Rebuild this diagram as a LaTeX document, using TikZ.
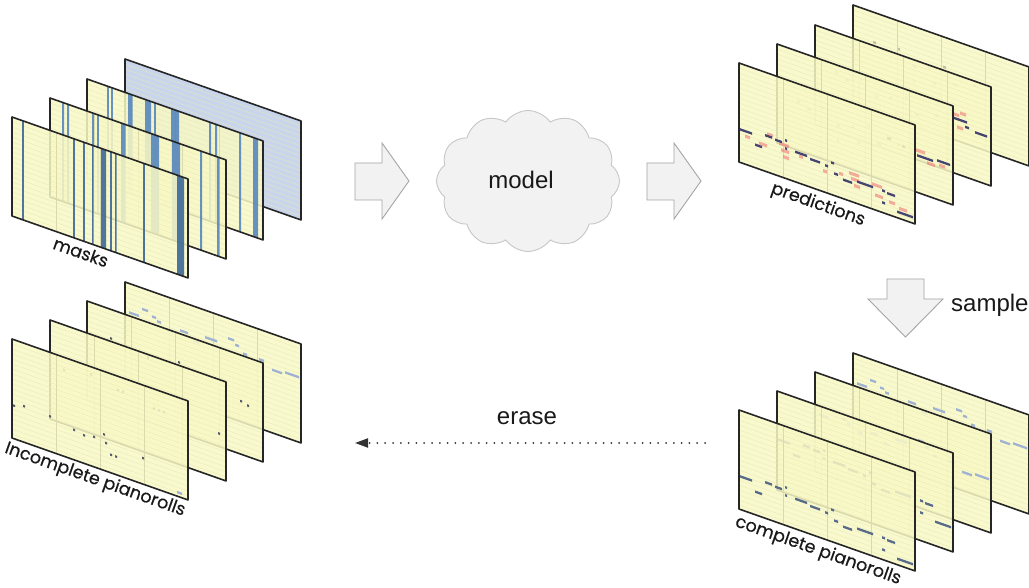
\documentclass[tikz,border=0pt]{standalone}
\usepackage{fontspec}
\setmainfont{Liberation Sans}
\newfontfamily\labelfont{Poppins}[FakeBold=0.35]
\usetikzlibrary{shapes.symbols,arrows.meta}

\definecolor{sheetyellow}{RGB}{249,249,198}
\definecolor{rowcol}{RGB}{232,232,184}
\definecolor{barcol}{RGB}{218,218,172}
\definecolor{maskblue}{RGB}{78,128,188}
\definecolor{maskdark}{RGB}{50,95,150}
\definecolor{maskback}{RGB}{192,206,232}
\definecolor{notecol}{RGB}{88,106,138}
\definecolor{lightnote}{RGB}{160,178,210}
\definecolor{prednote}{RGB}{70,68,112}
\definecolor{predpink}{RGB}{240,110,110}
\definecolor{faintnote}{RGB}{190,190,170}
\definecolor{dotcol}{RGB}{85,90,105}
\definecolor{arrowfill}{RGB}{242,242,242}
\definecolor{arrowdraw}{RGB}{165,165,165}

\tikzset{
  rowline/.style={draw=rowcol, line width=0.35pt},
  barline/.style={draw=barcol, line width=0.5pt},
  sheetborder/.style={draw=black!85, line width=1.6pt, line join=round},
  sheetlabel/.style={font=\labelfont\fontsize{17.5}{20}\selectfont, rotate=-19.5, text=black!90, inner sep=0pt},
  bigtext/.style={font=\fontsize{24}{28}\selectfont, text=black!90, inner sep=0pt},
  blockarrow/.style={fill=arrowfill, draw=arrowdraw, line width=0.9pt, line join=miter},
  erasearrow/.style={draw=black!80, line width=2pt, dash pattern=on 0pt off 7.8pt, line cap=round,
     -{Triangle[length=13pt,width=9pt]}},
  cloudshape/.style={cloud, cloud puffs=12, cloud puff arc=110, aspect=1.3,
     minimum width=183pt, minimum height=141pt, fill=arrowfill, draw=black!22, line width=0.9pt},
  noteA/.style={fill=notecol},
  noteL/.style={fill=lightnote},
  noteP/.style={fill=prednote},
  noteF/.style={fill=faintnote},
  pinkblob/.style={fill=predpink, fill opacity=0.55},
  stripe/.style={fill=maskblue, fill opacity=0.85},
  stripedark/.style={fill=maskdark, fill opacity=0.85},
}

% one sheet: [fill colour]{x}{y}{content}
\newcommand\sheetframe[4][sheetyellow]{%
  \begin{scope}[shift={(#2,#3)}, yslant=-0.352]
    \fill[#1, fill opacity=0.85] (0,0) rectangle (176,99);
    \foreach \rr in {5,10,...,95} \draw[rowline] (0,\rr) -- (176,\rr);
    \foreach \bb in {44,88,132} \draw[barline] (\bb,0) -- (\bb,99);
    #4
    \draw[sheetborder] (0,0) rectangle (176,99);
  \end{scope}}

\newcommand\notelist[3]{\foreach \qa/\qb/\qc in #3 {\fill[#1] (\qa,{\qb+#2-1.2}) rectangle ++(\qc,2.4);}}
\newcommand\blobs[2]{\foreach \qa/\qb/\qc in #2 {\fill[#1] (\qa,{\qb-1.6}) rectangle ++(\qc,3.2);}}
\newcommand\dotlist[2]{\foreach \qa/\qb in #2 {\fill[#1] (\qa,{\qb-1.1}) rectangle ++(2.2,2.2);}}
\newcommand\stripelist[2]{\foreach \qa/\qc in #2 {\fill[#1] (\qa,0) rectangle ++(\qc,99);}}

\def\melA{1/66/12,16/76/7,26/63/7,36/64/7,46/61/2,46/69/2,56/69/12,71/71/10,86/72/3,92/67/3,95/77/4,104/80/9,118/77/16,143/77/3,143/89/3,148/78/8,158/93/16}
\def\melB{4/29/10,17/21/6,27/25/4,32/28/4,42/33/6,55/29/8,68/35/6,80/27/12,103/20/6,110/24/4,118/30/4,134/30/5,147/36/10,160/34/14}
\def\pinkA{40/66/10,42/72/8,44/78/6,20/73/8,60/72/4,110/71/10,112/76/8,115/82/6,133/74/10,136/84/8,150/86/6,28/61/6,100/75/4,160/89/8,6/71/5,84/78/4}
\def\predB{140/62/16,160/60/13,125/58/3,110/55/4}
\def\pinkB{138/57/10,150/66/8,162/64/6}
\def\predC{138/44/14,150/49/4,160/51/12}
\def\pinkC{136/40/8,145/37/6,142/52/6}
\def\faintA{20/30/3,30/34/4,45/28/2,60/40/3,75/36/2,90/30/3,100/44/4,120/38/3,60/55/2,80/50/3}
\def\dotsA{1/66,11/63,37/64,61/69,71/71,81/69,91/63,93/71,98/81,103/81,130/73}
\def\dashA{165/95/5}
\def\dotsB{13/45,67/46,72/46,103/52,108/52,113/52,168/54,40/40}
\def\dotsC{23/29,91/29,153/46,160/48,60/35}
\def\maskA{10/1.8,61/1.8,71/1.8,80/1.5,89/5,98/1.8,103/1.5,131/1.8}
\def\maskAd{165/7}
\def\maskB{12/2.2,17/2.2,42/1.8,47/1.8,71/4.5,101/8,122/8,150/2.2,167/2.5}
\def\maskC{20/1.8,24/1.8,41/4.5,58/6,67/1.8,84/8,122/2.2,128/2.2,152/2.2,166/5}

\begin{document}
\begin{tikzpicture}[x=1pt,y=-1pt]
\fill[white] (0,0) rectangle (1029,588);
\useasboundingbox (0,0) rectangle (1029,588);

% ---------- masks ----------
\sheetframe[maskback]{125}{59}{}
\sheetframe{87}{79}{\stripelist{stripe}{\maskC}}
\sheetframe{50}{98}{\stripelist{stripe}{\maskB}}
\sheetframe{12}{117}{\stripelist{stripedark}{\maskA}\stripelist{stripedark}{\maskAd}}
\node[sheetlabel] (masksl) at (81,252) {masks};

% ---------- predictions ----------
\sheetframe{853}{5}{\notelist{noteF}{0}{\faintA}}
\sheetframe{815}{25}{\notelist{noteF}{10}{\faintA}\blobs{pinkblob}{\pinkC}\notelist{noteP}{0}{\predC}}
\sheetframe{777}{44}{\notelist{noteF}{20}{\faintA}\blobs{pinkblob}{\pinkB}\notelist{noteP}{0}{\predB}}
\sheetframe{739}{63}{\blobs{pinkblob}{\pinkA}\notelist{noteP}{0}{\melA}}
\node[sheetlabel] (predl) at (818,205) {predictions};

% ---------- incomplete pianorolls ----------
\sheetframe{125}{282}{\notelist{noteL}{0}{\melB}}
\sheetframe{87}{301}{\dotlist{fill=dotcol}{\dotsC}}
\sheetframe{50}{320}{\dotlist{fill=dotcol}{\dotsB}}
\sheetframe{12}{339}{\dotlist{fill=dotcol}{\dotsA}\notelist{noteL}{0}{\dashA}}
\node[sheetlabel] (incl) at (95,480) {Incomplete pianorolls};

% ---------- complete pianorolls ----------
\sheetframe{853}{353}{\notelist{noteL}{0}{\melB}}
\sheetframe{815}{372}{\notelist{noteL}{12}{\melB}}
\sheetframe{777}{391}{\notelist{noteA}{-18}{\melA}}
\sheetframe{739}{410}{\notelist{noteA}{0}{\melA}}
\node[sheetlabel] (compl) at (818,551) {complete pianorolls};

% ---------- model ----------
\node[cloudshape] (model) at (528,181) {};
\node[bigtext] (modell) at (521,180) {model};

% ---------- block arrows ----------
\draw[blockarrow] (355,163) -- (382,163) -- (382,143) -- (409,181) -- (382,219) -- (382,200) -- (355,200) -- cycle;
\draw[blockarrow] (647,163) -- (674,163) -- (674,143) -- (701,181) -- (674,219) -- (674,200) -- (647,200) -- cycle;
\draw[blockarrow] (887,279) -- (924,279) -- (924,299) -- (943,299) -- (905.5,337) -- (868,299) -- (887,299) -- cycle;
\node[bigtext, anchor=west] (samplel) at (951,305) {sample};

% ---------- erase ----------
\coordinate (erasefrom) at (705,443);
\coordinate (eraseto) at (355,443);
\draw[erasearrow] (erasefrom) -- (eraseto);
\node[bigtext] (erasel) at (527,418) {erase};
\end{tikzpicture}
\end{document}
